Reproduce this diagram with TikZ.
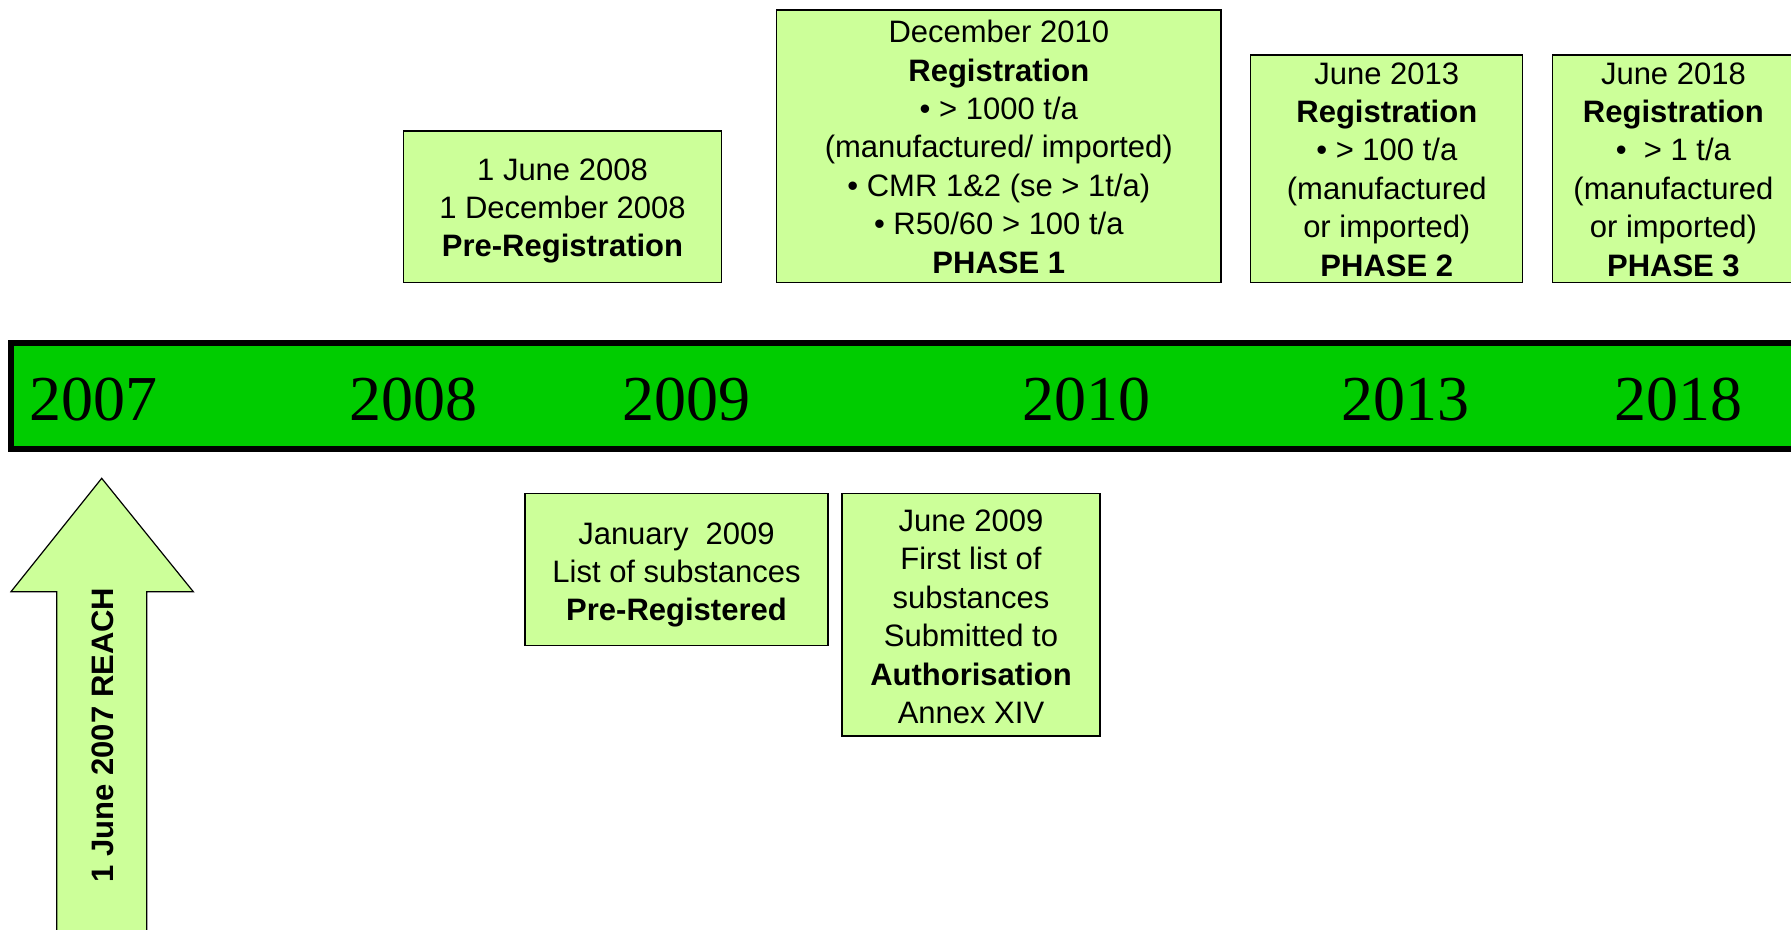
\documentclass[tikz,border=0pt]{standalone}
\usepackage{fontspec}
\setmainfont{Liberation Sans}
\newfontfamily\yearfont{Liberation Serif}
\definecolor{barGreen}{HTML}{00CC00}
\definecolor{boxGreen}{HTML}{CCFF99}
\begin{document}
\begin{tikzpicture}[x=1pt,y=-1pt,
  box/.style={draw=black, line width=1.2pt, fill=boxGreen, inner sep=0pt},
  % multi-line text is placed by the baseline of its last line
  boxtext/.style={align=center, font=\fontsize{31}{38.4}\selectfont, inner sep=0pt, anchor=base},
  year/.style={font=\yearfont\fontsize{64}{64}\selectfont, anchor=base, inner sep=0pt},
  reachtext/.style={font=\bfseries\fontsize{31}{31}\selectfont, inner sep=0pt, rotate=90}]
\useasboundingbox (0,0) rectangle (1791,929);

% timeline bar
\draw[line width=6pt, fill=barGreen] (11,343) rectangle (1796,448.5);
\node[year] (y2007) at (93.3,420) {2007};
\node[year] (y2008) at (413,420) {2008};
\node[year] (y2009) at (686,420) {2009};
\node[year] (y2010) at (1086,420) {2010};
\node[year] (y2013) at (1405,420) {2013};
\node[year] (y2018) at (1678,420) {2018};

% milestones above the bar
\node[box, minimum width=318.4pt, minimum height=151.3pt] (prereg) at (562.5,206.7) {};
\node[boxtext] (preregtxt) at (562.5,256.8) {1 June 2008\\1 December 2008\\\textbf{Pre-Registration}};

\node[box, minimum width=444.3pt, minimum height=272.7pt] (phase1) at (998.8,146.3) {};
\node[boxtext] (phase1txt) at (998.8,273.1) {December 2010\\\textbf{Registration}\\• > 1000 t/a\\(manufactured/ imported)\\• CMR 1\&2 (se > 1t/a)\\• R50/60 > 100 t/a\\\textbf{PHASE 1}};

\node[box, minimum width=272pt, minimum height=227.7pt] (phase2) at (1386.8,168.8) {};
\node[boxtext] (phase2txt) at (1386.8,276) {June 2013\\\textbf{Registration}\\• > 100 t/a\\(manufactured\\or imported)\\\textbf{PHASE 2}};

\node[box, minimum width=242.6pt, minimum height=227.7pt] (phase3) at (1673.7,168.8) {};
\node[boxtext] (phase3txt) at (1673.4,276) {June 2018\\\textbf{Registration}\\•\ \ > 1 t/a\\(manufactured\\or imported)\\\textbf{PHASE 3}};

% milestones below the bar
\node[box, minimum width=303pt, minimum height=152.4pt] (jan09) at (676.5,569.5) {};
\node[boxtext] (jan09txt) at (676.5,620.8) {January\ \ 2009\\List of substances\\\textbf{Pre-Registered}};

\node[box, minimum width=258pt, minimum height=242.7pt] (jun09) at (971,614.7) {};
\node[boxtext] (jun09txt) at (971,723.5) {June 2009\\First list of\\substances\\Submitted to\\\textbf{Authorisation}\\Annex XIV};

% entry into force arrow
\draw[line width=1.2pt, fill=boxGreen, line join=miter]
  (101.7,478.3) -- (193.3,591.7) -- (146.7,591.7) -- (146.7,940)
  -- (56.7,940) -- (56.7,591.7) -- (11,591.7) -- cycle;
\node[reachtext] (reach) at (103,735) {1 June 2007 REACH};
\end{tikzpicture}
\end{document}
